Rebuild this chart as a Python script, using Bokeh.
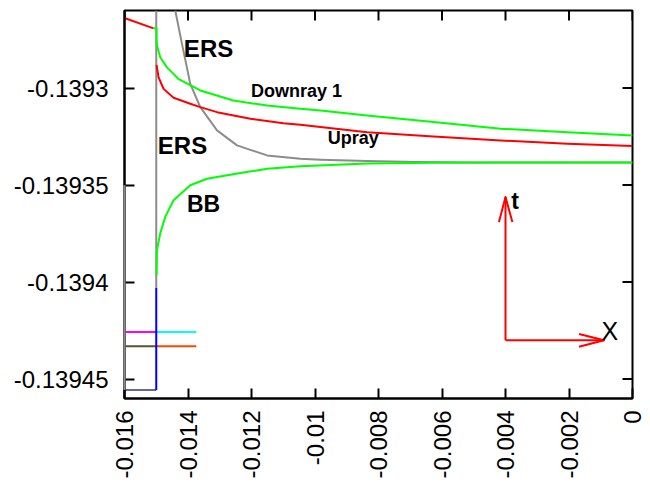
import math
from bokeh.plotting import figure
from bokeh.models import Range1d, FixedTicker
from bokeh.core.properties import value
from bokeh.embed import file_html
from bokeh.resources import INLINE

FONT = "Liberation Sans"

# ---- axes ----
x_ticks = [-0.016, -0.014, -0.012, -0.01, -0.008, -0.006, -0.004, -0.002, 0.0]
x_tick_labels = ["-0.016", "-0.014", "-0.012", "-0.01", "-0.008", "-0.006", "-0.004", "-0.002", "0"]
y_ticks = [-0.13945, -0.1394, -0.13935, -0.1393]
y_tick_labels = ["-0.13945", "-0.1394", "-0.13935", "-0.1393"]
x_min, x_max = -0.016, 0.0
y_min, y_max = -0.13946, -0.13926

# ---- series ----
red_left_x = [-0.016, -0.015086]
red_left_y = [-0.1392639, -0.1392692]

upray_x = [-0.01499, -0.014928, -0.01477, -0.014455, -0.013928, -0.013613, -0.013086, -0.012036,
           -0.010996, -0.01046, -0.009829, -0.008356, -0.006266, -0.004153, -0.00205, 0.0]
upray_y = [-0.139288, -0.1392944, -0.1393004, -0.139305, -0.1393081, -0.1393098, -0.1393124, -0.1393158,
           -0.1393181, -0.1393189, -0.1393201, -0.1393227, -0.1393249, -0.139327, -0.1393287, -0.1393299]

downray_x = [-0.015086, -0.01499, -0.01499, -0.01496, -0.014874, -0.014663, -0.014307, -0.013613,
             -0.012572, -0.01151, -0.01046, -0.009829, -0.008356, -0.006266, -0.004153, -0.00205, 0.0]
downray_y = [-0.1392692, -0.1392692, -0.139276, -0.1392791, -0.1392841, -0.1392893, -0.1392952, -0.1393012,
             -0.1393064, -0.139309, -0.1393107, -0.1393115, -0.1393141, -0.1393175, -0.1393209, -0.1393227, -0.1393244]

ers_x = [-0.014401, -0.01419, -0.013928, -0.013613, -0.013086, -0.012456, -0.01151, -0.01046,
         -0.009829, -0.008356, -0.00678, -0.005, 0.0]
ers_y = [-0.13926, -0.1392772, -0.1392978, -0.1393098, -0.1393218, -0.1393295, -0.1393347, -0.1393364,
         -0.1393369, -0.1393376, -0.1393381, -0.1393383, -0.1393383]

bb_x = [-0.01499, -0.014978, -0.014874, -0.014717, -0.014455, -0.013928, -0.013402, -0.012352,
        -0.01151, -0.01046, -0.008356, -0.006266, -0.004, 0.0]
bb_y = [-0.1393964, -0.1393835, -0.1393748, -0.1393664, -0.1393578, -0.1393501, -0.1393467, -0.1393438,
        -0.1393416, -0.1393403, -0.1393389, -0.1393385, -0.1393383, -0.1393383]

ers_vert_x = [-0.015, -0.015]
ers_vert_y = [-0.13926, -0.1394031]
blue_x = [-0.015, -0.015]
blue_y = [-0.1394031, -0.1394556]
left_gray_x = [-0.016, -0.016]
left_gray_y = [-0.1394556, -0.13935]

state_left_x = [-0.016, -0.015]
state_right_x = [-0.015, -0.013739]
level_a = -0.1394257
level_b = -0.1394331
level_c = -0.1394556

# ---- annotations ----
labels = [
    # text, x, y, size, style
    ("ERS", -0.01413, -0.1392795, "24px", "bold"),
    ("ERS", -0.01495, -0.1393296, "24px", "bold"),
    ("BB", -0.014032, -0.1393599, "23px", "bold"),
    ("Downray 1", -0.012014, -0.1393014, "18px", "bold"),
    ("Upray", -0.009599, -0.1393256, "18px", "bold"),
    ("t", -0.003822, -0.139358, "23px", "bold"),
    ("X", -0.000977, -0.1394254, "25px", "normal"),
]
arrow_origin = (-0.004, -0.13943)
arrow_t_tip_y = -0.1393561
arrow_t_barb_y = -0.139369
arrow_t_barb_x = [-0.004206, -0.003784]
arrow_x_tip_x = -0.000895
arrow_x_barb_x = -0.001684
arrow_x_barb_y = [-0.1394268, -0.1394333]

p = figure(width=650, height=484,
           x_range=Range1d(x_min, x_max), y_range=Range1d(y_min, y_max),
           output_backend="svg", toolbar_location=None,
           min_border_left=124, min_border_right=18, min_border_top=10, min_border_bottom=86)
p.xgrid.visible = False
p.ygrid.visible = False
p.outline_line_color = "black"
p.outline_line_width = 2
p.background_fill_color = "white"
p.border_fill_color = "white"

xa = p.below[0]
ya = p.left[0]
xa.ticker = FixedTicker(ticks=x_ticks)
ya.ticker = FixedTicker(ticks=y_ticks)
xa.major_label_overrides = {t: l for t, l in zip(x_ticks, x_tick_labels)}
ya.major_label_overrides = {t: l for t, l in zip(y_ticks, y_tick_labels)}
xa.major_label_orientation = math.pi / 2
xa.major_label_standoff = 12
ya.major_label_standoff = 16
for ax in (xa, ya):
    ax.major_tick_in = 10
    ax.major_tick_out = 0
    ax.major_tick_line_width = 2
    ax.axis_line_width = 2
    ax.minor_tick_line_color = None
    ax.major_label_text_font = FONT
    ax.major_label_text_font_size = "24px"
    ax.major_label_text_color = "black"

# mirrored inward ticks on top and right (from the tick arrays, screen-length rays)
p.ray(x=x_ticks, y=[y_max] * len(x_ticks), length=10, length_units="screen",
      angle=-math.pi / 2, line_color="black", line_width=2)
p.ray(x=[x_max] * len(y_ticks), y=y_ticks, length=10, length_units="screen",
      angle=math.pi, line_color="black", line_width=2)

LW = 2
GRAY = "#8c8c8c"
lk = dict(line_width=LW, line_join="round")
p.line(ers_vert_x, ers_vert_y, line_color=GRAY, **lk)
p.line(ers_x, ers_y, line_color=GRAY, **lk)
p.line(red_left_x, red_left_y, line_color="#ff0000", **lk)
p.line(downray_x, downray_y, line_color="#00ff00", **lk)
p.line(upray_x, upray_y, line_color="#ff0000", **lk)
p.line(bb_x, bb_y, line_color="#00ff00", **lk)

p.line(state_left_x, [level_a, level_a], line_color="#ff00ff", **lk)
p.line(state_right_x, [level_a, level_a], line_color="#00ffff", **lk)
p.line(state_left_x, [level_b, level_b], line_color="#555533", **lk)
p.line(state_right_x, [level_b, level_b], line_color="#ff4500", **lk)
p.line(state_left_x, [level_c, level_c], line_color="#666699", **lk)
p.line(left_gray_x, left_gray_y, line_color=GRAY, level="overlay", **lk)

p.line(blue_x, blue_y, line_color="#0000ff", **lk)

# arrows
ox, oy = arrow_origin
p.line([ox, ox], [oy, arrow_t_tip_y], line_color="#ff0000", **lk)
p.line([arrow_t_barb_x[0], ox, arrow_t_barb_x[1]], [arrow_t_barb_y, arrow_t_tip_y, arrow_t_barb_y],
       line_color="#ff0000", **lk)
p.line([ox, arrow_x_tip_x], [oy, oy], line_color="#ff0000", **lk)
p.line([arrow_x_barb_x, arrow_x_tip_x, arrow_x_barb_x], [arrow_x_barb_y[0], oy, arrow_x_barb_y[1]],
       line_color="#ff0000", **lk)

for txt, tx, ty, size, style in labels:
    p.text(x=[tx], y=[ty], text=[txt], text_font=value(FONT), text_font_size=size,
           text_font_style=style, text_color="black", text_align="left",
           text_baseline="alphabetic")

open("out.html", "w").write(file_html(p, INLINE))
